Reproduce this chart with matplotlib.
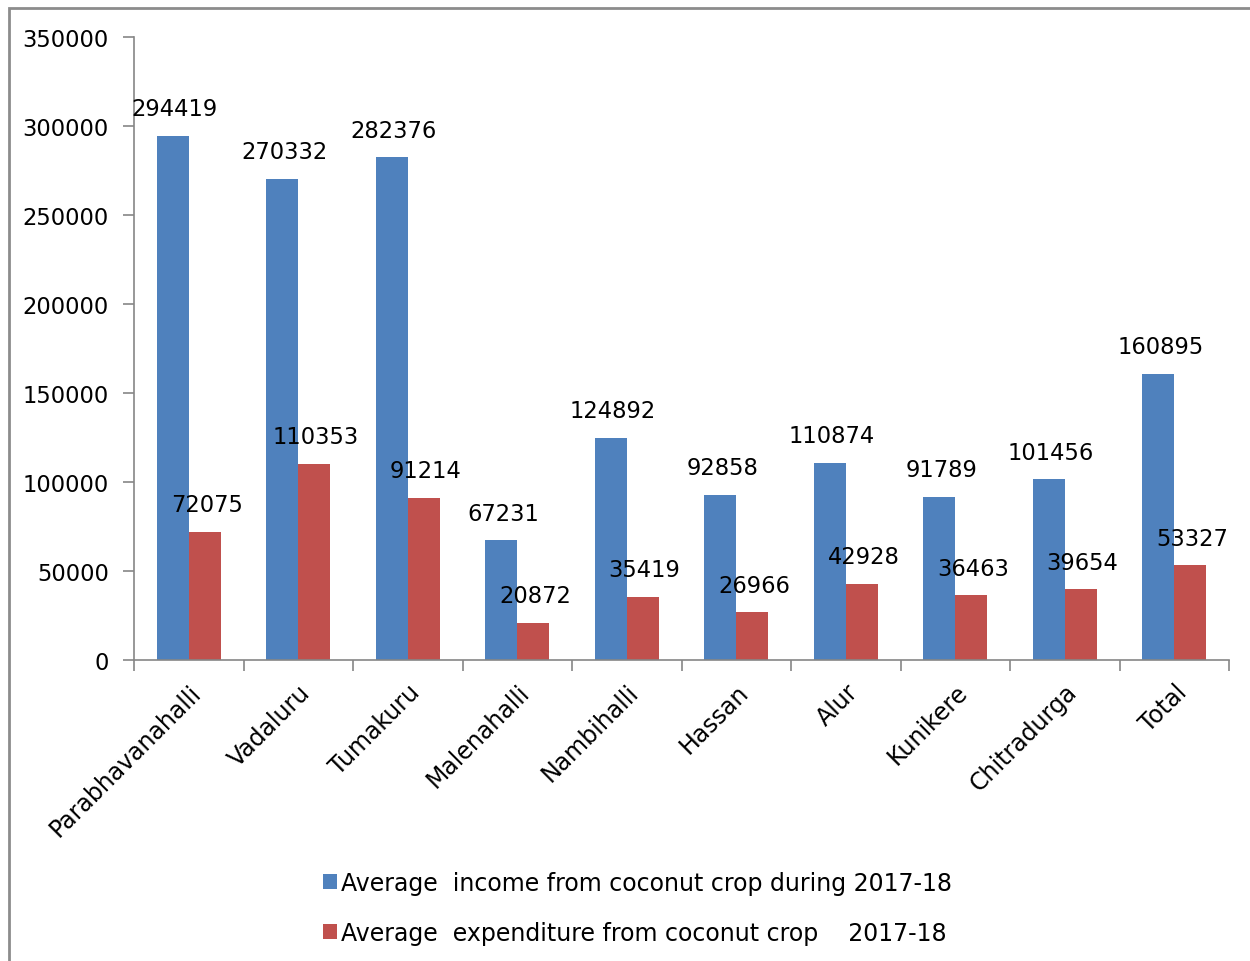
import matplotlib.pyplot as plt
import matplotlib.patches as mpatches
import numpy as np

villages = ['Parabhavanahalli', 'Vadaluru', 'Tumakuru', 'Malenahalli', 'Nambihalli',
            'Hassan', 'Alur', 'Kunikere', 'Chitradurga', 'Total']
income = [294419, 270332, 282376, 67231, 124892, 92858, 110874, 91789, 101456, 160895]
expenditure = [72075, 110353, 91214, 20872, 35419, 26966, 42928, 36463, 39654, 53327]
income_label = 'Average  income from coconut crop during 2017-18'
expend_label = 'Average  expenditure from coconut crop    2017-18'

blue = '#4F81BD'
red = '#C0504D'
grey = '#868686'

plt.rcParams['font.family'] = ['DejaVu Sans']

fig = plt.figure(figsize=(12.5, 9.62), dpi=100)
ax = fig.add_axes([134/1250, 1-661/962, (1229-134)/1250, (661-38)/962])

x = np.arange(len(villages))
w = 0.29
b1 = ax.bar(x - w/2, income, w, color=blue, label=income_label)
b2 = ax.bar(x + w/2, expenditure, w, color=red, label=expend_label)

for rect, v in zip(b1, income):
    ax.annotate(str(v), (rect.get_x() + rect.get_width()/2, v), xytext=(2, 27),
                textcoords='offset pixels', ha='center', va='center', fontsize=16.3)
for rect, v in zip(b2, expenditure):
    ax.annotate(str(v), (rect.get_x() + rect.get_width()/2, v), xytext=(2, 27),
                textcoords='offset pixels', ha='center', va='center', fontsize=16.3)

ax.set_xlim(-0.5, len(villages) - 0.5)
ax.set_ylim(0, 350000)
ax.set_yticks(np.arange(0, 350001, 50000))
ax.tick_params(axis='y', labelsize=16.3, length=8, color=grey, width=1.2, pad=10)

ax.set_xticks(np.arange(-0.5, len(villages), 1.0))
ax.set_xticklabels([])
ax.set_xticks(x, minor=True)
ax.set_xticklabels(villages, minor=True, rotation=45, ha='right', va='top',
                   rotation_mode='anchor', fontsize=17)
ax.tick_params(axis='x', which='major', length=8, color=grey, width=1.2)
ax.tick_params(axis='x', which='minor', length=0, pad=14)

for s in ['top', 'right']:
    ax.spines[s].set_visible(False)
for s in ['left', 'bottom']:
    ax.spines[s].set_color(grey)
    ax.spines[s].set_linewidth(1.2)

fig.legend(handles=[b1, b2], loc='center', bbox_to_anchor=(0.51, 1 - 909/962),
           frameon=False, fontsize=17, handlelength=0.6, handleheight=0.6,
           handletextpad=0.15, labelspacing=1.1)

border = mpatches.Rectangle((9/1250, -0.1), 1.2, 1.1 - 9/962, transform=fig.transFigure,
                            fill=False, edgecolor='#8C8C8C', linewidth=2, clip_on=False)
fig.patches.append(border)

fig.savefig('out.png', dpi=100)
